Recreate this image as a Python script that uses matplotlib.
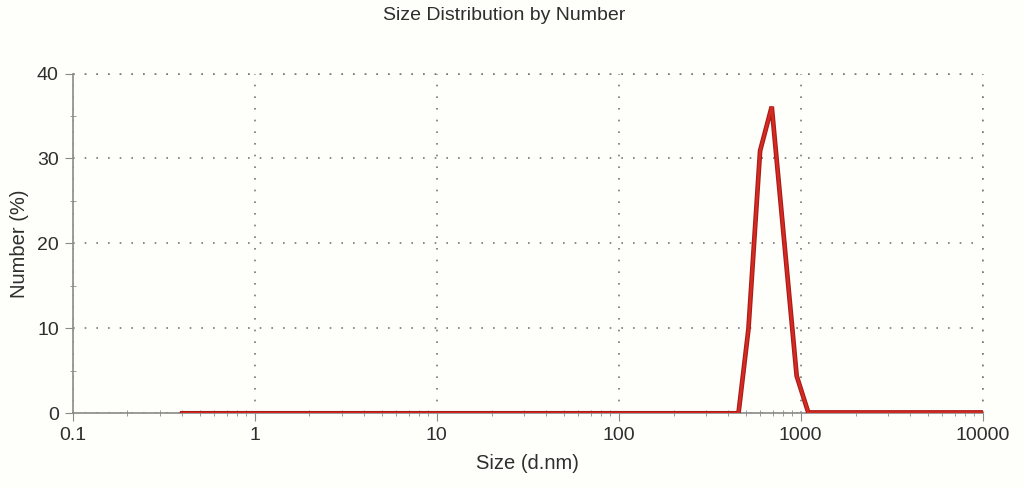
import matplotlib
matplotlib.use("Agg")
import matplotlib.pyplot as plt
from matplotlib.ticker import LogLocator, FixedLocator, NullFormatter, FuncFormatter

plt.rcParams["font.family"] = ["Liberation Sans", "DejaVu Sans"]

# values
size_nm = [0.4, 1, 10, 100, 455, 516, 598, 693, 950, 1100, 10000]
number_pct = [0, 0, 0, 0, 0, 9.9, 30.9, 36.1, 4.4, 0.1, 0.1]

x_ticks = [0.1, 1, 10, 100, 1000, 10000]
y_ticks = [0, 10, 20, 30, 40]

fig = plt.figure(figsize=(10.24, 4.87), dpi=100)
fig.patch.set_facecolor("#fefefb")
ax = fig.add_axes([0.071, 0.1513, 0.8887, 0.6977])
ax.set_facecolor("#fefefb")

ax.plot(size_nm, number_pct, color="#a81c18", lw=3.4, solid_joinstyle="miter", zorder=3)
ax.plot(size_nm, number_pct, color="#d42a22", lw=1.8, solid_joinstyle="miter", zorder=4)

ax.set_xscale("log")
ax.set_xlim(0.1, 10000)
ax.set_ylim(0, 40)

ax.xaxis.set_major_locator(FixedLocator(x_ticks))
ax.xaxis.set_major_formatter(FuncFormatter(lambda v, p: f"{v:g}"))
ax.xaxis.set_minor_locator(LogLocator(base=10, subs=range(2, 10)))
ax.xaxis.set_minor_formatter(NullFormatter())
ax.yaxis.set_major_locator(FixedLocator(y_ticks))
ax.yaxis.set_minor_locator(FixedLocator([5, 15, 25, 35]))

grey = "#8a8a8a"
for s in ("top", "right"):
    ax.spines[s].set_visible(False)
for s in ("left", "bottom"):
    ax.spines[s].set_color(grey)
    ax.spines[s].set_linewidth(1.2)

ax.tick_params(which="major", direction="out", length=6, color=grey,
               labelsize=14, labelcolor="#2e2e2e", pad=4)
ax.tick_params(which="minor", direction="inout", length=5, color=grey)

dots = (0, (1, 6))
ax.grid(which="major", linestyle=dots, color="#777777", linewidth=1.2)
# dotted frame on top and right, like the grid
ax.axhline(40, linestyle=dots, color="#777777", linewidth=1.2, clip_on=False)
ax.axvline(10000, linestyle=dots, color="#777777", linewidth=1.2, clip_on=False)

ax.set_xlabel("Size (d.nm)", fontsize=14.5, color="#2e2e2e", labelpad=7)
ax.set_ylabel("Number (%)", fontsize=14.5, color="#2e2e2e", labelpad=6)
fig.text(0.492, 0.968, "Size Distribution by Number", ha="center", va="center",
         fontsize=14, color="#2e2e2e")

fig.savefig("out.png", dpi=100, facecolor=fig.get_facecolor())
